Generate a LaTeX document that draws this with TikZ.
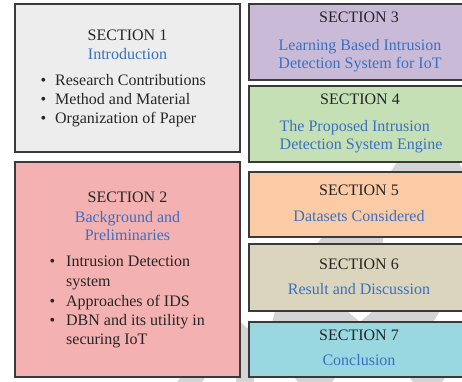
\documentclass[tikz,border=0pt]{standalone}
\usepackage{fontspec}
\setmainfont{Liberation Serif}
\usetikzlibrary{fit}

\definecolor{boxline}{RGB}{58,58,58}
\definecolor{ink}{RGB}{38,38,38}
\definecolor{topicblue}{RGB}{58,112,193}
\definecolor{chevron}{RGB}{212,212,212}
\definecolor{secone}{RGB}{236,237,236}
\definecolor{sectwo}{RGB}{244,177,177}
\definecolor{secthree}{RGB}{201,187,216}
\definecolor{secfour}{RGB}{198,224,181}
\definecolor{secfive}{RGB}{251,203,166}
\definecolor{secsix}{RGB}{218,213,188}
\definecolor{secseven}{RGB}{153,216,224}

\newcommand{\bul}[1]{\llap{\textbullet\hspace{#1}}}

\begin{document}
\begin{tikzpicture}[x=1pt,y=-1pt,font=\fontsize{16}{19}\selectfont,
  box/.style={draw=boxline,line width=1.3pt,inner sep=0pt},
  head/.style={anchor=base,inner sep=0pt,text=ink},
  topic/.style={anchor=base,inner sep=0pt,text=topicblue},
  item/.style={anchor=base west,inner sep=0pt,text=ink}]
\useasboundingbox (0,0) rectangle (462,381);
\fill[white] (0,0) rectangle (462,381);

% grey chevrons in the background
\fill[chevron] (405,150) -- (454,150) -- (469,185) -- (382,185) -- cycle;
\fill[chevron] (330,228) -- (385,228) -- (381,252) -- (310,252) -- cycle;
\fill[chevron] (278,300) -- (334,300) -- (360,322) -- (360,330) -- (270,330) -- cycle;
\fill[chevron] (386,300) -- (447,300) -- (428,330) -- (360,330) -- (360,322) -- cycle;
\fill[chevron] (236,318) -- (254,334) -- (254,390) -- (236,390) -- cycle;
\fill[chevron] (180,378) -- (205,378) -- (200,385) -- (175,385) -- cycle;
\fill[chevron] (295,378) -- (335,378) -- (330,385) -- (300,385) -- cycle;
\fill[chevron] (410,378) -- (445,378) -- (440,385) -- (415,385) -- cycle;

% section boxes
\foreach \n/\xa/\ya/\xb/\yb/\c in {sec1/15/4/240/152/secone, sec2/15/162/240/377/sectwo,
    sec3/249/4/462.5/80/secthree, sec4/249/86/462.5/162/secfour, sec5/249/172/462.5/237/secfive,
    sec6/249/244/462.5/311/secsix, sec7/249/322/462.5/377/secseven}
  \node[box,fill=\c,fit={(\xa,\ya) (\xb,\yb)}] (\n) {};

% headings
\foreach \k/\x/\y in {1/127.5/40,2/127.5/202.7,3/359/22.7,4/360/104.3,5/359/195.3,6/359/269,7/359/340}
  \node[head] (head\k) at (\x,\y) {SECTION \k};

% titles
\foreach \n/\x/\y/\t in {t1/127.5/59.3/Introduction, t2a/127.5/222.3/Background and, t2b/127.5/240.7/Preliminaries,
    t3a/360/50/Learning Based Intrusion, t3b/360/68.3/Detection System for IoT,
    t5/359/221/Datasets Considered, t6/359/294.3/Result and Discussion, t7/359/365/Conclusion}
  \node[topic] (\n) at (\x,\y) {\t};
\node[topic,anchor=base west] (t4a) at (279.5,131) {The Proposed Intrusion};
\node[topic,anchor=base west] (t4b) at (279.5,149) {Detection System Engine};

% bullet lists
\foreach \n/\y/\t in {i1a/85/Research Contributions, i1b/104.3/Method and Material, i1c/123.6/Organization of Paper}
  \node[item] (\n) at (55,\y) {\bul{9pt}\t};
\foreach \n/\y/\t in {i2a/266.7/Intrusion Detection, i2c/306/Approaches of IDS, i2d/325.3/DBN and its utility in}
  \node[item] (\n) at (66,\y) {\bul{11pt}\t};
\node[item] (i2b) at (66,286) {system};
\node[item] (i2e) at (66,344.6) {securing IoT};
\end{tikzpicture}
\end{document}
